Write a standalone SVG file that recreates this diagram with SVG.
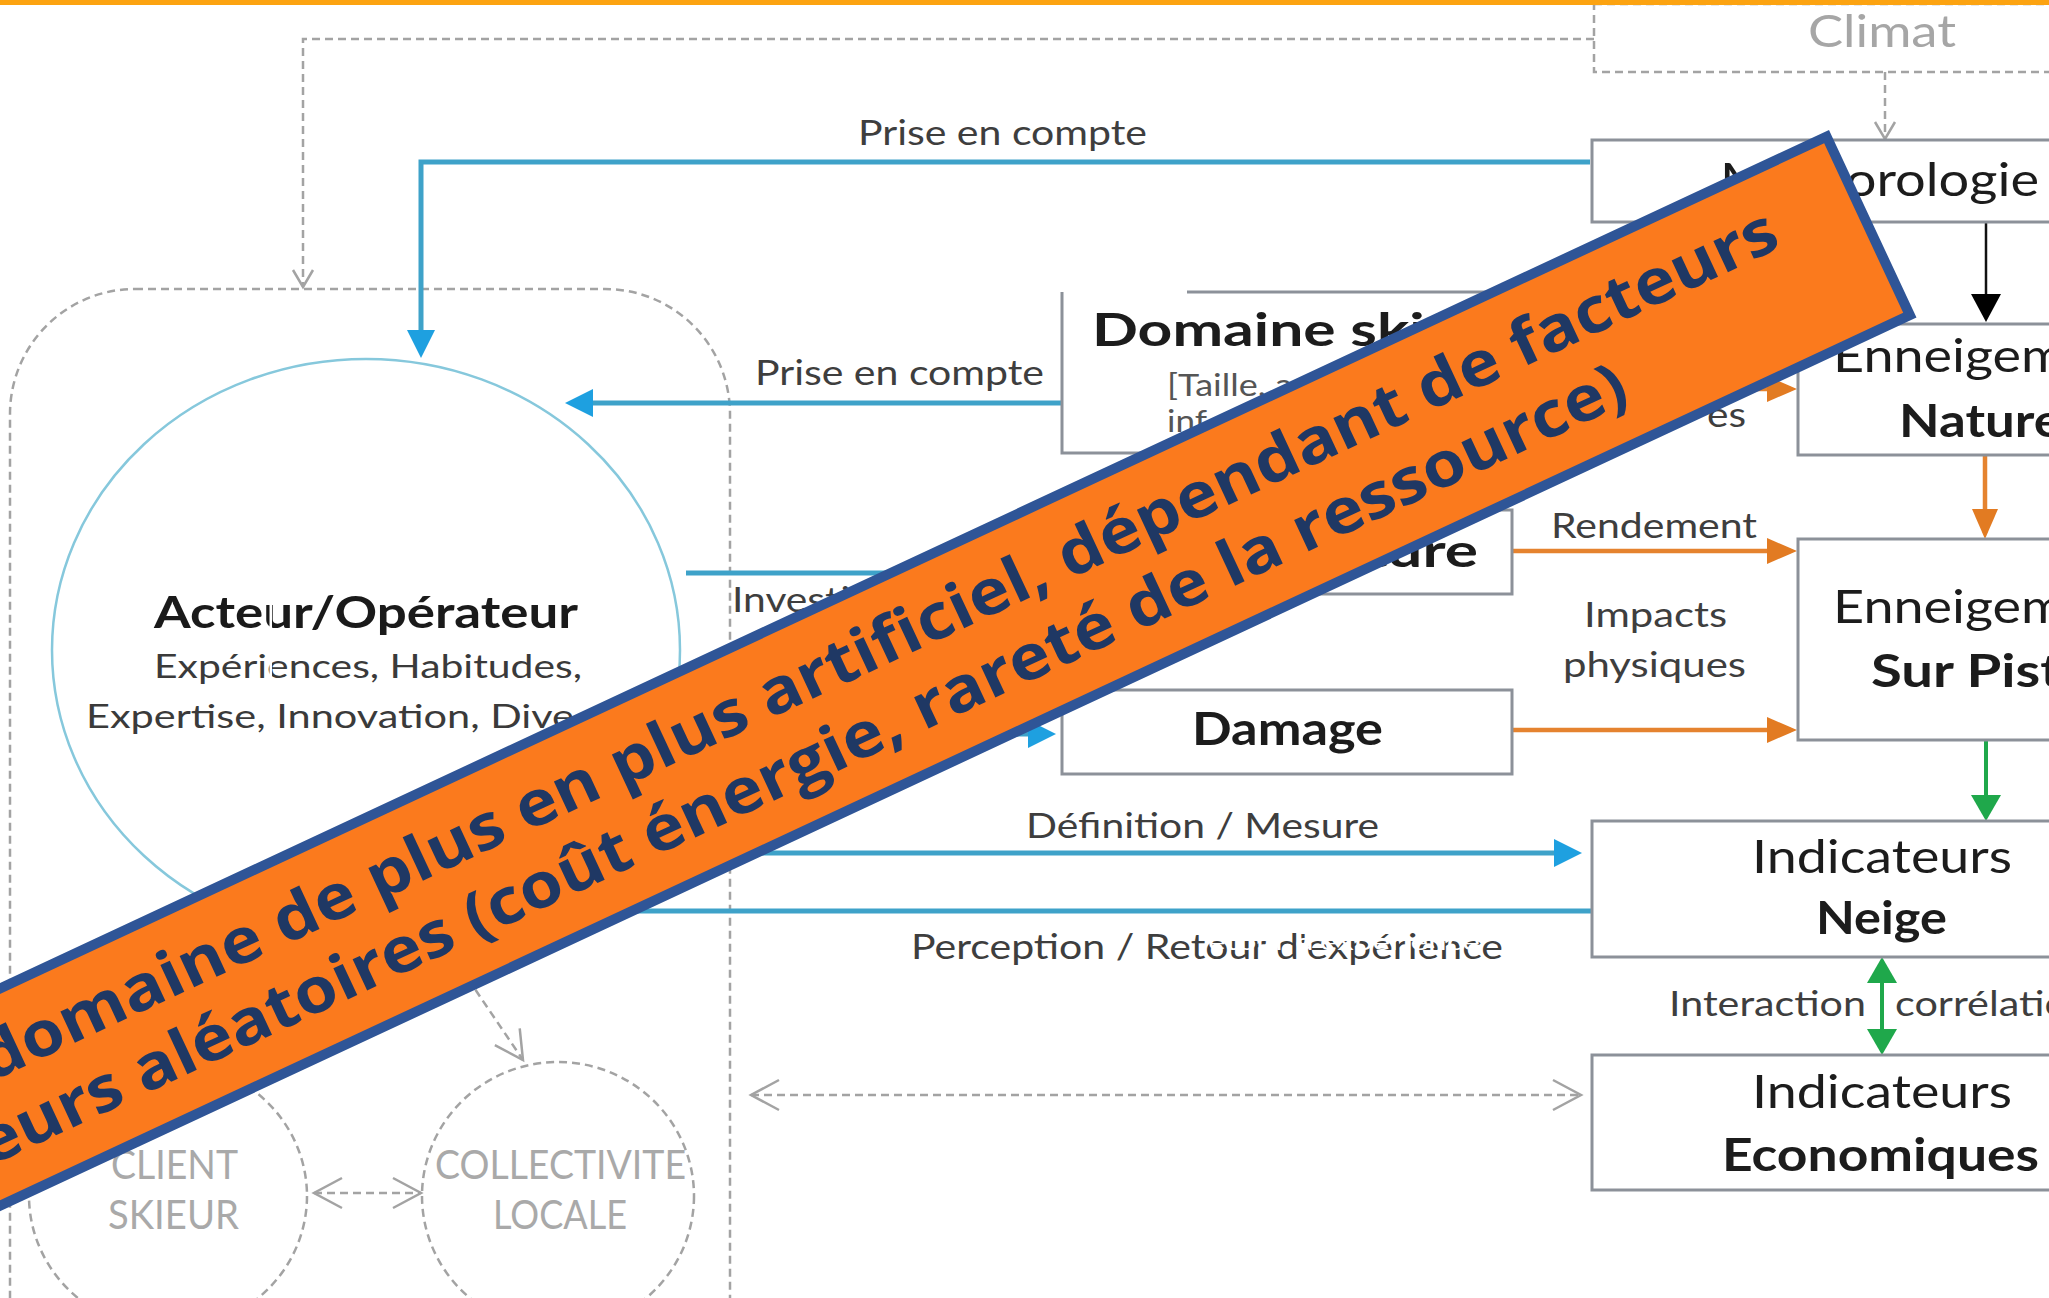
<svg xmlns="http://www.w3.org/2000/svg" width="2049" height="1298" viewBox="0 0 2049 1298">
<defs>
<style>
.box{fill:#fff;stroke:#8c9199;stroke-width:3}
.t{font-family:Lato,'Liberation Sans',sans-serif}
.ti{font-size:46px;fill:#1c1c1c}
.b{font-weight:700}
.lb{font-size:34px;fill:#3e3e3e}
.sub{font-size:32px;fill:#3a3a3a}
.gt{font-size:40px;fill:#a9a9a9}
.blue{stroke:#3ea2c9;stroke-width:5;fill:none}
.org{stroke:#e5832f;stroke-width:4.5;fill:none}
.grn{stroke:#1fa84b;stroke-width:4;fill:none}
.blk{stroke:#111;stroke-width:2.5;fill:none}
.dash{stroke:#a3a3a3;stroke-width:2.5;fill:none;stroke-dasharray:8 5}
.ban{font-family:'Open Sans',Lato,sans-serif;font-weight:700;font-size:63px;fill:#1f3864}
</style>
<marker id="hb" markerUnits="userSpaceOnUse" markerWidth="30" markerHeight="30" refX="22" refY="14" orient="auto" overflow="visible"><path d="M0,0 L28,14 L0,28 Z" fill="#1ea0e0"/></marker>
<marker id="ho" markerUnits="userSpaceOnUse" markerWidth="32" markerHeight="28" refX="24" refY="13" orient="auto" overflow="visible"><path d="M0,0 L30,13 L0,26 Z" fill="#e27b22"/></marker>
<marker id="hg" markerUnits="userSpaceOnUse" markerWidth="30" markerHeight="32" refX="20" refY="15" orient="auto-start-reverse" overflow="visible"><path d="M0,0 L26,15 L0,30 Z" fill="#1fa84b"/></marker>
<marker id="hk" markerUnits="userSpaceOnUse" markerWidth="30" markerHeight="32" refX="22" refY="15" orient="auto" overflow="visible"><path d="M0,0 L28,15 L0,30 Z" fill="#000"/></marker>
<marker id="cv" markerUnits="userSpaceOnUse" markerWidth="30" markerHeight="32" refX="28" refY="15" orient="auto-start-reverse" overflow="visible"><path d="M0,0 L28,15 L0,30" fill="none" stroke="#a3a3a3" stroke-width="2.5"/></marker>
<marker id="cs" markerUnits="userSpaceOnUse" markerWidth="20" markerHeight="22" refX="17" refY="10" orient="auto" overflow="visible"><path d="M0,0 L17,10 L0,20" fill="none" stroke="#a3a3a3" stroke-width="2.5"/></marker>
</defs>
<rect width="2049" height="1298" fill="#fff"/>

<g id="climat">
<rect class="dash" x="1594" y="4" width="520" height="68"/>
<text class="t" x="1808" y="47" font-size="44" fill="#a6a6a6" textLength="148" lengthAdjust="spacingAndGlyphs">Climat</text>
</g>

<g id="acteur-zone">
<rect class="dash" x="10" y="289" width="720" height="1150" rx="125" ry="125"/>
</g>

<g id="acteur">
<ellipse cx="366" cy="650" rx="314" ry="291" fill="none" stroke="#86c8dc" stroke-width="2.5"/>
<text class="t b" x="154" y="628" font-size="44" fill="#1a1a1a" textLength="424" lengthAdjust="spacingAndGlyphs">Acteur/Opérateur</text>
<text class="t sub" x="154" y="678" textLength="428" lengthAdjust="spacingAndGlyphs">Expériences, Habitudes,</text>
<text class="t sub" x="86" y="728" textLength="488" lengthAdjust="spacingAndGlyphs">Expertise, Innovation, Dive</text>
<rect x="269.5" y="595" width="2.5" height="90" fill="#fff"/>
</g>

<g id="client">
<ellipse class="dash" cx="168" cy="1196" rx="139" ry="134"/>
<text class="t gt" x="111" y="1179" textLength="127" lengthAdjust="spacingAndGlyphs">CLIENT</text>
<text class="t gt" x="108" y="1229" textLength="131" lengthAdjust="spacingAndGlyphs">SKIEUR</text>
</g>

<g id="collectivite">
<ellipse class="dash" cx="558" cy="1196" rx="136" ry="134"/>
<text class="t gt" x="435" y="1179" textLength="251" lengthAdjust="spacingAndGlyphs">COLLECTIVITE</text>
<text class="t gt" x="493" y="1229" textLength="134" lengthAdjust="spacingAndGlyphs">LOCALE</text>
</g>

<g id="connectors">
<path class="dash" d="M1594,39 H303 V287" marker-end="url(#cs)"/>
<path class="dash" d="M1885,72 V139" marker-end="url(#cs)"/>
<path class="dash" d="M751,1095 H1581" marker-start="url(#cv)" marker-end="url(#cv)"/>
<path class="dash" d="M314,1193 H421" marker-start="url(#cv)" marker-end="url(#cv)"/>
<path class="dash" d="M439,936 L523,1060" marker-end="url(#cv)"/>

<path class="blue" d="M1590,162 H421 V352" marker-end="url(#hb)"/>
<path class="blue" d="M1062,403 H571" marker-end="url(#hb)"/>
<path class="blue" d="M686,573 H1054" marker-end="url(#hb)"/>
<path class="blue" d="M666,734 H1050" marker-end="url(#hb)"/>
<path class="blue" d="M600,853 H1576" marker-end="url(#hb)"/>
<path class="blue" d="M1592,911 H525" marker-end="url(#hb)"/>

<path class="org" d="M1512,389 H1791" marker-end="url(#ho)"/>
<path class="org" d="M1512,551 H1791" marker-end="url(#ho)"/>
<path class="org" d="M1512,730 H1791" marker-end="url(#ho)"/>
<path class="org" d="M1985,455 V533" marker-end="url(#ho)"/>

<path class="blk" d="M1986,222 V316" marker-end="url(#hk)"/>
<path class="grn" d="M1986,740 V815" marker-end="url(#hg)"/>
<path class="grn" d="M1882,963 V1049" marker-start="url(#hg)" marker-end="url(#hg)"/>

<text class="t lb" x="858" y="145" textLength="289" lengthAdjust="spacingAndGlyphs">Prise en compte</text>
<text class="t lb" x="755" y="385" textLength="289" lengthAdjust="spacingAndGlyphs">Prise en compte</text>
<text class="t lb" x="732" y="612" textLength="267" lengthAdjust="spacingAndGlyphs">Investissement</text>
<text class="t lb" x="1026" y="838" textLength="353" lengthAdjust="spacingAndGlyphs">Définition / Mesure</text>
<text class="t lb" x="911" y="959" textLength="592" lengthAdjust="spacingAndGlyphs">Perception / Retour d'expérience</text>
<text class="t" x="1208" y="950" font-size="24" fill="#fff" textLength="272" lengthAdjust="spacingAndGlyphs">etour d'expérience</text>
<text class="t lb" x="1707" y="427" textLength="39" lengthAdjust="spacingAndGlyphs">es</text>
<text class="t lb" x="1551" y="538" textLength="206" lengthAdjust="spacingAndGlyphs">Rendement</text>
<text class="t lb" x="1584" y="627" textLength="143" lengthAdjust="spacingAndGlyphs">Impacts</text>
<text class="t lb" x="1563" y="677" textLength="183" lengthAdjust="spacingAndGlyphs">physiques</text>
<text class="t lb" x="1669" y="1016" textLength="197" lengthAdjust="spacingAndGlyphs">Interaction</text>
<text class="t lb" x="1895" y="1016" textLength="196" lengthAdjust="spacingAndGlyphs">corrélation</text>
</g>

<g id="meteorologie">
<rect class="box" x="1592" y="140" width="560" height="82"/>
<text class="t ti" x="1720" y="196" textLength="319" lengthAdjust="spacingAndGlyphs">Météorologie</text>
</g>

<g id="domaine">
<path class="box" d="M1187,292 H1512 V453 H1062 V292"/>
<text class="t ti b" x="1092" y="346" textLength="445" lengthAdjust="spacingAndGlyphs">Domaine skiable</text>
<text class="t" x="1167" y="396" font-size="30" fill="#555" textLength="126" lengthAdjust="spacingAndGlyphs">[Taille, a</text>
<text class="t" x="1167" y="432" font-size="30" fill="#555" textLength="40" lengthAdjust="spacingAndGlyphs">inf</text>
</g>

<g id="infrastructure">
<rect class="box" x="1062" y="510" width="450" height="84"/>
<text class="t ti b" x="1096" y="567" textLength="382" lengthAdjust="spacingAndGlyphs">Infrastructure</text>
</g>

<g id="damage">
<rect class="box" x="1062" y="690" width="450" height="84"/>
<text class="t ti b" x="1192" y="745" textLength="191" lengthAdjust="spacingAndGlyphs">Damage</text>
</g>

<g id="enneigement-naturel">
<rect class="box" x="1798" y="324" width="400" height="131"/>
<text class="t ti" x="1833" y="372" textLength="310" lengthAdjust="spacingAndGlyphs">Enneigement</text>
<text class="t ti b" x="1899" y="437" textLength="176" lengthAdjust="spacingAndGlyphs">Naturel</text>
</g>

<g id="enneigement-piste">
<rect class="box" x="1798" y="539" width="400" height="201"/>
<text class="t ti" x="1833" y="623" textLength="310" lengthAdjust="spacingAndGlyphs">Enneigement</text>
<text class="t ti b" x="1871" y="687" textLength="220" lengthAdjust="spacingAndGlyphs">Sur Piste</text>
</g>

<g id="indicateurs-neige">
<rect class="box" x="1592" y="821" width="580" height="136"/>
<text class="t ti" x="1752" y="873" textLength="260" lengthAdjust="spacingAndGlyphs">Indicateurs</text>
<text class="t ti b" x="1816" y="934" textLength="131" lengthAdjust="spacingAndGlyphs">Neige</text>
</g>

<g id="indicateurs-eco">
<rect class="box" x="1592" y="1055" width="580" height="135"/>
<text class="t ti" x="1752" y="1108" textLength="260" lengthAdjust="spacingAndGlyphs">Indicateurs</text>
<text class="t ti b" x="1722" y="1171" textLength="317" lengthAdjust="spacingAndGlyphs">Economiques</text>
</g>

<g id="banner" transform="translate(1829,130) rotate(-25)">
<rect x="-2400" y="5" width="2395" height="197" fill="#fb7a1d" stroke="#2f5597" stroke-width="10"/>
<text class="ban" x="-2068" y="86" textLength="1977" lengthAdjust="spacingAndGlyphs">domaine de plus en plus artificiel, dépendant de facteurs</text>
<text class="ban" x="-2105" y="162" textLength="1812" lengthAdjust="spacingAndGlyphs">eurs aléatoires (coût énergie, rareté de la ressource)</text>
</g>

<rect id="topbar" x="0" y="0" width="2049" height="5" fill="#fca311"/>
</svg>
